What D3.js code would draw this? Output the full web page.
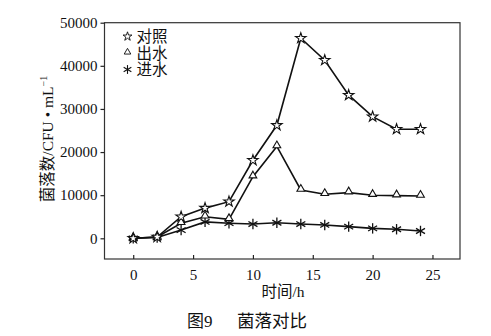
<!DOCTYPE html>
<html>
<head>
<meta charset="utf-8">
<script src="https://cdn.jsdelivr.net/npm/d3@7"></script>
<style>
  html, body { margin: 0; padding: 0; background: #fff; }
  svg { display: block; }
  text { fill: #111; }
</style>
</head>
<body>
<svg id="chart" width="491" height="336"></svg>
<script>
// Sampling times (h)
const hours = [0, 2, 4, 6, 8, 10, 12, 14, 16, 18, 20, 22, 24];
// Colony counts (CFU·mL⁻¹)
const control = [0, 300, 5000, 7000, 8500, 18100, 26200, 46400, 41300, 33200, 28200, 25300, 25300];
const effluent = [0, 300, 3500, 5000, 4400, 14300, 21300, 11200, 10200, 10600, 10000, 9900, 9800];
const influent = [0, 200, 1900, 3800, 3500, 3300, 3600, 3300, 3100, 2700, 2300, 2100, 1700];

const seriesNames = ["对照", "出水", "进水"];
const xTicks = [0, 5, 10, 15, 20, 25];
const yTicks = [0, 10000, 20000, 30000, 40000, 50000];

const latin = "'Liberation Serif', 'Times New Roman', serif";
const cjk = "'Liberation Serif', 'Noto Sans CJK SC', serif";

const svg = d3.select("#chart");
const plotL = 104.5, plotR = 460, plotT = 22.7, plotB = 259;

const x = d3.scaleLinear().domain([-2.4, 27.3]).range([plotL, plotR]);
const y = d3.scaleLinear().domain([-4800, 50000]).range([plotB, plotT]);

// plot frame
svg.append("rect")
  .attr("x", plotL).attr("y", plotT)
  .attr("width", plotR - plotL).attr("height", plotB - plotT)
  .attr("fill", "none").attr("stroke", "#333").attr("stroke-width", 1.2);

// y axis: ticks point outward
const yAxis = svg.append("g")
  .attr("transform", `translate(${plotL},0)`)
  .call(d3.axisLeft(y).tickValues(yTicks).tickSize(4).tickPadding(3).tickFormat(d3.format("d")));
yAxis.select(".domain").remove();
yAxis.selectAll("line").attr("stroke", "#222").attr("stroke-width", 1.2);
yAxis.selectAll("text").attr("font-family", latin).attr("font-size", 15).attr("fill", "#111");

// x axis: ticks point inward
const xAxis = svg.append("g")
  .attr("transform", `translate(0,${plotB})`)
  .call(d3.axisBottom(x).tickValues(xTicks).tickSizeInner(-4).tickSizeOuter(0).tickPadding(10));
xAxis.select(".domain").remove();
xAxis.selectAll("line").attr("stroke", "#222").attr("stroke-width", 1.2);
xAxis.selectAll("text").attr("font-family", latin).attr("font-size", 15).attr("fill", "#111");

// axis titles
svg.append("text")
  .attr("transform", "translate(53,139) rotate(-90)")
  .attr("text-anchor", "middle")
  .attr("font-family", cjk).attr("font-size", 15.5)
  .text("菌落数/CFU • mL")
  .append("tspan").attr("dy", -6).attr("font-size", 10).text("−1");

svg.append("text")
  .attr("x", 283).attr("y", 297)
  .attr("text-anchor", "middle")
  .attr("font-family", cjk).attr("font-size", 15.5)
  .text("时间/h");

// figure caption
svg.append("text")
  .attr("x", 187).attr("y", 327)
  .attr("font-family", cjk).attr("font-size", 17)
  .text("图9");
svg.append("text")
  .attr("x", 237).attr("y", 327)
  .attr("font-family", cjk).attr("font-size", 17.5)
  .text("菌落对比");

// marker shapes
const starPath = d3.symbol().type(d3.symbolStar).size(34)();
const triPath = d3.symbol().type(d3.symbolTriangle).size(26)();
function asterisk(g, r) {
  [90, 30, 150].forEach(a => {
    const rad = a * Math.PI / 180;
    g.append("line")
      .attr("x1", -r * Math.cos(rad)).attr("y1", -r * Math.sin(rad))
      .attr("x2", r * Math.cos(rad)).attr("y2", r * Math.sin(rad))
      .attr("stroke", "#111").attr("stroke-width", 1.3);
  });
}

const series = [
  { name: seriesNames[0], values: control, kind: "star" },
  { name: seriesNames[1], values: effluent, kind: "tri" },
  { name: seriesNames[2], values: influent, kind: "ast" }
];

function drawMarker(g, kind) {
  if (kind === "star") {
    g.append("path").attr("d", starPath).attr("fill", "#fff").attr("stroke", "#111").attr("stroke-width", 1.1);
  } else if (kind === "tri") {
    g.append("path").attr("d", triPath).attr("transform", "translate(0,-1)").attr("fill", "#fff").attr("stroke", "#111").attr("stroke-width", 1.1);
  } else {
    asterisk(g, 5.2);
  }
}

const line = d3.line().x((d, i) => x(hours[i])).y(d => y(d));

series.forEach(s => {
  svg.append("path")
    .attr("d", line(s.values))
    .attr("fill", "none").attr("stroke", "#111").attr("stroke-width", 1.6);
});

// markers drawn last so they sit on top of the lines
[...series].reverse().forEach(s => {
  s.values.forEach((v, i) => {
    const g = svg.append("g").attr("transform", `translate(${x(hours[i])},${y(v)})`);
    drawMarker(g, s.kind);
  });
});

// legend
const legendY = [36.5, 53, 69.5];
series.forEach((s, i) => {
  const g = svg.append("g").attr("transform", `translate(127.5,${legendY[i]})`);
  const m = g.append("g").attr("transform", "scale(0.85)");
  drawMarker(m, s.kind);
  g.append("text")
    .attr("x", 9).attr("y", 5.5)
    .attr("font-family", cjk).attr("font-size", 15.5)
    .text(s.name);
});
</script>
</body>
</html>
